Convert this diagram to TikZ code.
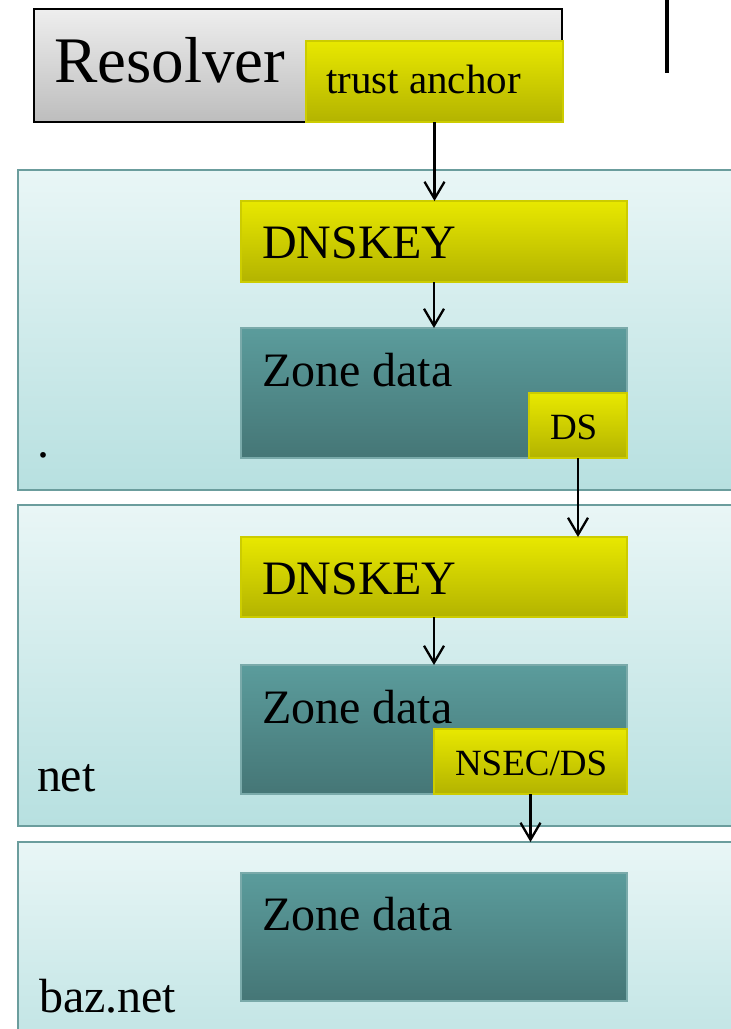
\documentclass[tikz,border=0pt]{standalone}
\usepackage{fontspec}
\setmainfont{Liberation Serif}
\usetikzlibrary{arrows.meta}
\definecolor{ytop}{HTML}{E8E800}
\definecolor{ybot}{HTML}{B3B300}
\definecolor{yborder}{HTML}{CCCC00}
\definecolor{ttop}{HTML}{5B9C9C}
\definecolor{tbot}{HTML}{457676}
\definecolor{tborder}{HTML}{7AAAAA}
\definecolor{ztop}{HTML}{E9F6F6}
\definecolor{zbot}{HTML}{B7E0E0}
\definecolor{zborder}{HTML}{6B9D9D}
\definecolor{gtop}{HTML}{EEEEEE}
\definecolor{gbot}{HTML}{BDBDBD}
\begin{document}
\begin{tikzpicture}[x=1pt,y=-1pt,
  box/.style={rectangle, inner sep=0pt, outer sep=0pt, anchor=north west},
  gbox/.style={box, draw=black, top color=gtop, bottom color=gbot, line width=1.8pt},
  ybox/.style={box, draw=yborder, top color=ytop, bottom color=ybot, line width=1.5pt},
  tbox/.style={box, draw=tborder, top color=ttop, bottom color=tbot, line width=1.2pt},
  zone/.style={box, draw=zborder, top color=ztop, bottom color=zbot, line width=2.5pt},
  lbl/.style={anchor=base west, inner sep=0pt, outer sep=0pt, text=black},
  arr/.style={line width=2.3pt, -{Straight Barb[length=17pt,width=20pt,line width=2.3pt]}}
]
\clip (0,0) rectangle (731,1029);
\fill[white] (0,0) rectangle (731,1029);
% resolver
\node[gbox, minimum width=528pt, minimum height=113pt] (res) at (34,9) {};
\node[ybox, minimum width=257pt, minimum height=81pt] (ta) at (306,41) {};
\node[lbl, font=\fontsize{65}{65}\selectfont] (rest) at (54,82) {Resolver};
\node[lbl, font=\fontsize{41}{41}\selectfont] (tat) at (326,93) {trust anchor};
% stray line
\coordinate (v1) at (667,-5);
\coordinate (v2) at (667,73);
\draw[line width=3.3pt] (v1) -- (v2);
% zones
\node[zone, minimum width=760pt, minimum height=320pt] (z1) at (18,170) {};
\node[zone, minimum width=760pt, minimum height=321pt] (z2) at (18,505) {};
\node[zone, minimum width=760pt, minimum height=250pt] (z3) at (18,842) {};
% root zone
\node[ybox, minimum width=386pt, minimum height=81pt] (dk1) at (241,201) {};
\node[tbox, minimum width=386pt, minimum height=130pt] (zd1) at (241,328) {};
\node[ybox, minimum width=98pt, minimum height=65pt] (ds) at (529,393) {};
\node[lbl, font=\fontsize{48}{48}\selectfont] (dk1t) at (262,258) {DNSKEY};
\node[lbl, font=\fontsize{48}{48}\selectfont] (zd1t) at (262,386) {Zone data};
\node[lbl, font=\fontsize{37}{37}\selectfont] (dst) at (550,439) {DS};
\node[lbl, font=\fontsize{48}{48}\selectfont] (z1t) at (37,457) {.};
% net zone
\node[ybox, minimum width=386pt, minimum height=80pt] (dk2) at (241,537) {};
\node[tbox, minimum width=386pt, minimum height=129pt] (zd2) at (241,665) {};
\node[ybox, minimum width=193pt, minimum height=65pt] (nsec) at (434,729) {};
\node[lbl, font=\fontsize{48}{48}\selectfont] (dk2t) at (262,594) {DNSKEY};
\node[lbl, font=\fontsize{48}{48}\selectfont] (zd2t) at (262,723) {Zone data};
\node[lbl, font=\fontsize{37}{37}\selectfont] (nsect) at (455,775) {NSEC/DS};
\node[lbl, font=\fontsize{48}{48}\selectfont] (z2t) at (37,791) {net};
% baz.net zone
\node[tbox, minimum width=386pt, minimum height=128pt] (zd3) at (241,873) {};
\node[lbl, font=\fontsize{48}{48}\selectfont] (zd3t) at (262,930) {Zone data};
\node[lbl, font=\fontsize{48}{48}\selectfont] (z3t) at (39,1012) {baz.net};
% arrows
\draw[arr] (ta.south) -- (ta.south |- dk1.north);
\draw[arr] (dk1.south) -- (zd1.north);
\draw[arr] (ds.south) -- (ds.south |- dk2.north);
\draw[arr] (dk2.south) -- (zd2.north);
\draw[arr] (nsec.south) -- (nsec.south |- z3.north);
\end{tikzpicture}
\end{document}
